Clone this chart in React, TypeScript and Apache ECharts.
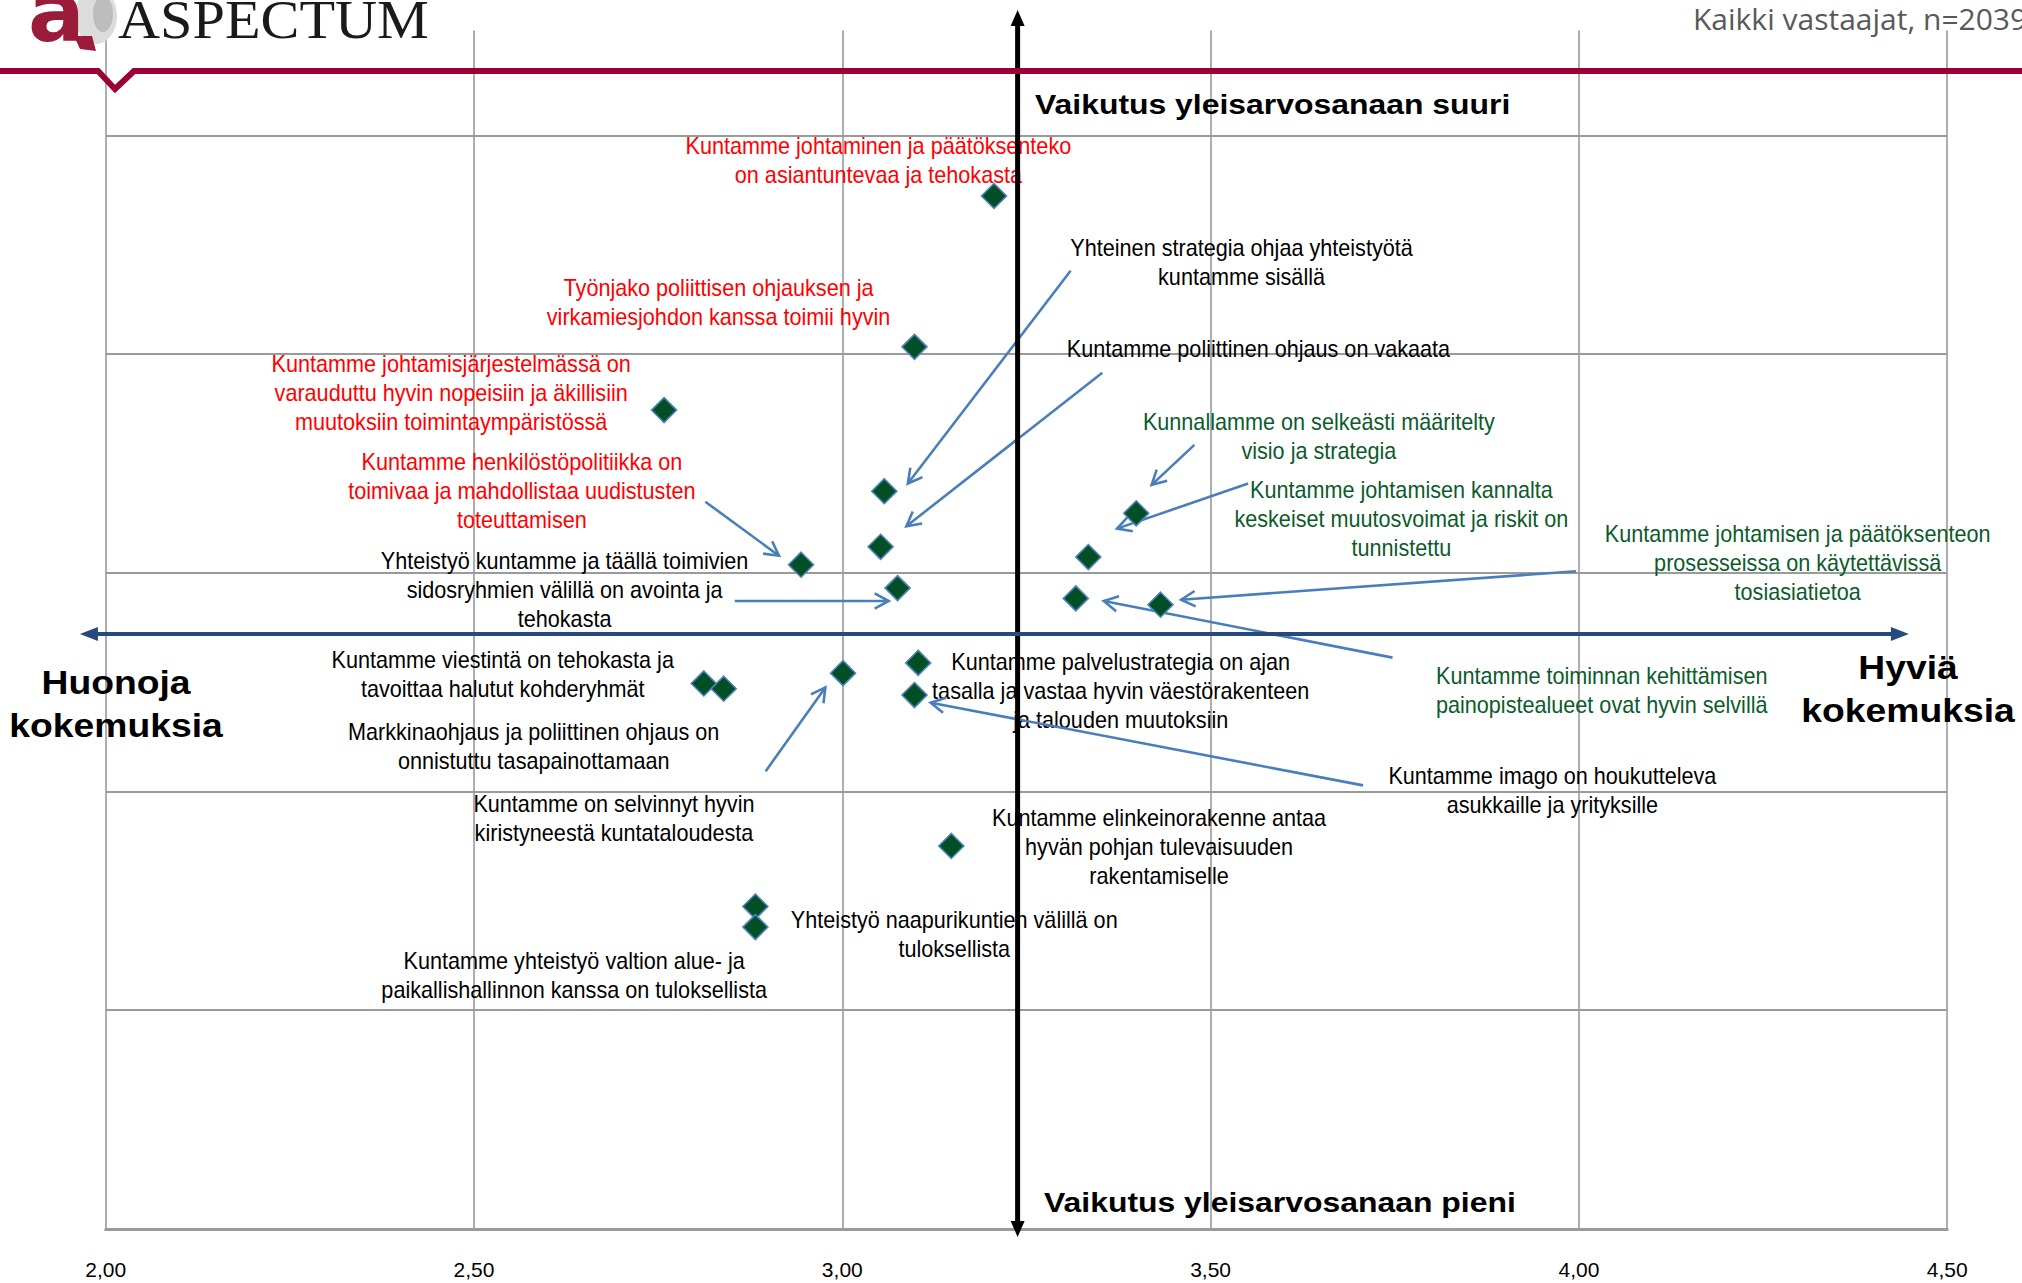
import { useEffect, useRef } from 'react';
import * as echarts from 'echarts';

// ---- Data -------------------------------------------------------------
const statements = [
  'Kuntamme johtaminen ja päätöksenteko on asiantuntevaa ja tehokasta',
  'Työnjako poliittisen ohjauksen ja virkamiesjohdon kanssa toimii hyvin',
  'Kuntamme johtamisjärjestelmässä on varauduttu hyvin nopeisiin ja äkillisiin muutoksiin toimintaympäristössä',
  'Yhteinen strategia ohjaa yhteistyötä kuntamme sisällä',
  'Kuntamme poliittinen ohjaus on vakaata',
  'Kuntamme henkilöstöpolitiikka on toimivaa ja mahdollistaa uudistusten toteuttamisen',
  'Yhteistyö kuntamme ja täällä toimivien sidosryhmien välillä on avointa ja tehokasta',
  'Kunnallamme on selkeästi määritelty visio ja strategia',
  'Kuntamme johtamisen kannalta keskeiset muutosvoimat ja riskit on tunnistettu',
  'Kuntamme toiminnan kehittämisen painopistealueet ovat hyvin selvillä',
  'Kuntamme johtamisen ja päätöksenteon prosesseissa on käytettävissä tosiasiatietoa',
  'Kuntamme palvelustrategia on ajan tasalla ja vastaa hyvin väestörakenteen ja talouden muutoksiin',
  'Kuntamme imago on houkutteleva asukkaille ja yrityksille',
  'Kuntamme on selvinnyt hyvin kiristyneestä kuntataloudesta',
  'Kuntamme viestintä on tehokasta ja tavoittaa halutut kohderyhmät',
  'Markkinaohjaus ja poliittinen ohjaus on onnistuttu tasapainottamaan',
  'Kuntamme elinkeinorakenne antaa hyvän pohjan tulevaisuuden rakentamiselle',
  'Yhteistyö naapurikuntien välillä on tuloksellista',
  'Kuntamme yhteistyö valtion alue- ja paikallishallinnon kanssa on tuloksellista',
];

// experience (x, 2..4.5) and impact on overall grade (y, relative scale)
const experience = [3.206, 3.098, 2.758, 3.057, 3.052, 2.944, 3.075, 3.399, 3.334, 3.317, 3.432, 3.103, 3.098, 3.001, 2.812, 2.839, 3.148, 2.882, 2.882];
const impact = [4.723, 4.033, 3.744, 3.373, 3.119, 3.037, 2.930, 3.272, 3.072, 2.883, 2.854, 2.588, 2.441, 2.541, 2.494, 2.470, 1.751, 1.474, 1.380];

// label texts as broken in the original
const labelLines = [
  'Kuntamme johtaminen ja päätöksenteko\non asiantuntevaa ja tehokasta',
  'Työnjako poliittisen ohjauksen ja\nvirkamiesjohdon kanssa toimii hyvin',
  'Kuntamme johtamisjärjestelmässä on\nvarauduttu hyvin nopeisiin ja äkillisiin\nmuutoksiin toimintaympäristössä',
  'Yhteinen strategia ohjaa yhteistyötä\nkuntamme sisällä',
  'Kuntamme poliittinen ohjaus on vakaata',
  'Kuntamme henkilöstöpolitiikka on\ntoimivaa ja mahdollistaa uudistusten\ntoteuttamisen',
  'Yhteistyö kuntamme ja täällä toimivien\nsidosryhmien välillä on avointa ja\ntehokasta',
  'Kunnallamme on selkeästi määritelty\nvisio ja strategia',
  'Kuntamme johtamisen kannalta\nkeskeiset muutosvoimat ja riskit on\ntunnistettu',
  'Kuntamme toiminnan kehittämisen\npainopistealueet ovat hyvin selvillä',
  'Kuntamme johtamisen ja päätöksenteon\nprosesseissa on käytettävissä\ntosiasiatietoa',
  'Kuntamme palvelustrategia on ajan\ntasalla ja vastaa hyvin väestörakenteen\nja talouden muutoksiin',
  'Kuntamme imago on houkutteleva\nasukkaille ja yrityksille',
  'Kuntamme on selvinnyt hyvin\nkiristyneestä kuntataloudesta',
  'Kuntamme viestintä on tehokasta ja\ntavoittaa halutut kohderyhmät',
  'Markkinaohjaus ja poliittinen ohjaus on\nonnistuttu tasapainottamaan',
  'Kuntamme elinkeinorakenne antaa\nhyvän pohjan tulevaisuuden\nrakentamiselle',
  'Yhteistyö naapurikuntien välillä on\ntuloksellista',
  'Kuntamme yhteistyö valtion alue- ja\npaikallishallinnon kanssa on tuloksellista',
];
// tone of the label: 0 = weakness (red), 1 = neutral (black), 2 = strength (green)
const labelTone = [0, 0, 0, 1, 1, 0, 1, 2, 2, 2, 2, 1, 1, 1, 1, 1, 1, 1, 1];
// label anchors (data units)
const labelX = [3.049, 2.832, 2.469, 3.542, 3.565, 2.565, 2.623, 3.647, 3.759, 4.031, 4.297, 3.378, 3.964, 2.690, 2.539, 2.581, 3.430, 3.152, 2.636];
const labelY = [4.882, 4.233, 3.821, 4.416, 4.021, 3.373, 2.919, 3.623, 3.243, 2.459, 3.042, 2.459, 2.005, 1.875, 2.532, 2.205, 1.745, 1.344, 1.156];

// leader arrows (data units): [fromX, fromY, toX, toY]
const leaderArrows = [
  [2.814, 3.325, 2.914, 3.078],
  [3.310, 4.381, 3.089, 3.408],
  [3.353, 3.915, 3.087, 3.213],
  [2.854, 2.871, 3.063, 2.871],
  [2.896, 2.093, 2.977, 2.476],
  [3.707, 2.028, 3.120, 2.406],
  [3.478, 3.585, 3.420, 3.402],
  [3.551, 3.408, 3.373, 3.202],
  [3.996, 3.007, 3.460, 2.877],
  [3.747, 2.612, 3.355, 2.871],
];

// quadrant axes (averages)
const meanExperience = 3.238;
const meanImpact = 2.72;
const quadrantAxes = [
  [meanExperience, -0.037, meanExperience, 5.573],
  [1.965, meanImpact, 4.448, meanImpact],
];

const xTicks = { min: 2, max: 4.5, interval: 0.5 };
const yRange = { min: 0, max: 5.48, interval: 1 };

const toneColors = ['#FF0000', '#000000', '#0B5B2A'];
const LABEL_FONT = '"Liberation Sans", Arial, sans-serif';

export default function App() {
  const ref = useRef<HTMLDivElement>(null);

  useEffect(() => {
    if (!ref.current) return;
    const chart = echarts.init(ref.current, null, { renderer: 'svg' });

    const labelSeries = {
      type: 'custom',
      coordinateSystem: 'cartesian2d',
      clip: false,
      z: 2,
      silent: true,
      data: labelX.map((x, i) => [x, labelY[i], i]),
      renderItem: (params: any, api: any) => {
        const i = params.dataIndex;
        const p = api.coord([api.value(0), api.value(1)]);
        return {
          type: 'text',
          x: p[0],
          y: p[1],
          scaleX: 0.94,
          style: {
            text: labelLines[i],
            fill: toneColors[labelTone[i]],
            fontSize: 23,
            fontFamily: LABEL_FONT,
            align: 'center',
            verticalAlign: 'middle',
            lineHeight: 29,
          },
        };
      },
    };

    const arrowSeries = {
      type: 'custom',
      coordinateSystem: 'cartesian2d',
      clip: false,
      z: 3,
      silent: true,
      data: leaderArrows,
      renderItem: (_params: any, api: any) => {
        const a = api.coord([api.value(0), api.value(1)]);
        const b = api.coord([api.value(2), api.value(3)]);
        const ang = Math.atan2(b[1] - a[1], b[0] - a[0]);
        const L = 16;
        const w = 0.5;
        const h1 = [b[0] - L * Math.cos(ang - w), b[1] - L * Math.sin(ang - w)];
        const h2 = [b[0] - L * Math.cos(ang + w), b[1] - L * Math.sin(ang + w)];
        const stroke = '#4A7EBB';
        return {
          type: 'group',
          children: [
            { type: 'line', shape: { x1: a[0], y1: a[1], x2: b[0], y2: b[1] }, style: { stroke, lineWidth: 2.6 } },
            { type: 'polyline', shape: { points: [h1, b, h2] }, style: { stroke, lineWidth: 2.6, fill: null } },
          ],
        };
      },
    };

    const axesSeries = {
      type: 'custom',
      coordinateSystem: 'cartesian2d',
      clip: false,
      z: 4,
      silent: true,
      data: quadrantAxes,
      renderItem: (params: any, api: any) => {
        const a = api.coord([api.value(0), api.value(1)]);
        const b = api.coord([api.value(2), api.value(3)]);
        const vertical = params.dataIndex === 0;
        const color = vertical ? '#000000' : '#26497E';
        const lw = vertical ? 5 : 4;
        const L = vertical ? 16 : 18;
        const hw = 7;
        const ang = Math.atan2(b[1] - a[1], b[0] - a[0]);
        const cx = Math.cos(ang), sy = Math.sin(ang);
        const head = (tip: number[], dir: number) => {
          const bx = tip[0] - dir * L * cx;
          const by = tip[1] - dir * L * sy;
          return [tip, [bx - hw * sy, by + hw * cx], [bx + hw * sy, by - hw * cx]];
        };
        return {
          type: 'group',
          children: [
            {
              type: 'line',
              shape: { x1: a[0] + L * 0.8 * cx, y1: a[1] + L * 0.8 * sy, x2: b[0] - L * 0.8 * cx, y2: b[1] - L * 0.8 * sy },
              style: { stroke: color, lineWidth: lw },
            },
            { type: 'polygon', shape: { points: head(b, 1) }, style: { fill: color } },
            { type: 'polygon', shape: { points: head(a, -1) }, style: { fill: color } },
          ],
        };
      },
    };

    const option: any = {
      animation: false,
      backgroundColor: '#ffffff',
      grid: { left: 105.7, right: 74.8, top: 30.4, bottom: 54.1, containLabel: false, outerBoundsMode: 'none' },
      xAxis: {
        type: 'value',
        min: xTicks.min,
        max: xTicks.max,
        interval: xTicks.interval,
        axisLine: { show: true, onZero: false, lineStyle: { color: '#9a9a9a', width: 3 } },
        axisTick: { show: false },
        axisLabel: {
          margin: 30,
          color: '#000',
          fontSize: 21,
          fontFamily: LABEL_FONT,
          formatter: (v: number) => v.toFixed(2).replace('.', ','),
        },
        splitLine: { show: true, lineStyle: { color: '#9a9a9a', width: 1.6 } },
      },
      yAxis: {
        type: 'value',
        min: yRange.min,
        max: yRange.max,
        interval: yRange.interval,
        axisLine: { show: false },
        axisTick: { show: false },
        axisLabel: { show: false },
        splitLine: { show: true, showMaxLine: false, lineStyle: { color: '#9a9a9a', width: 2 } },
      },
      series: [
        labelSeries,
        arrowSeries,
        axesSeries,
        {
          type: 'scatter',
          z: 5,
          symbol: 'diamond',
          symbolSize: [25, 25],
          itemStyle: { color: '#024F25', borderColor: '#4F81BD', borderWidth: 1.6, opacity: 1 },
          data: experience.map((x, i) => ({ name: statements[i], value: [x, impact[i]] })),
        },
      ],
      graphic: {
        elements: [
          // header
          { type: 'rect', shape: { x: 60, y: 0, width: 58, height: 40 }, style: { fill: '#ffffff' }, z: 10 },
          { type: 'ellipse', shape: { cx: 96, cy: 16, rx: 21, ry: 28 }, style: { fill: '#dcdcdc' }, z: 11 },
          { type: 'ellipse', shape: { cx: 103, cy: 14, rx: 10, ry: 18 }, style: { fill: '#bdbdbd' }, z: 11 },
          {
            type: 'text', x: 28, y: 12, z: 12,
            style: { text: 'a', fontSize: 84, fontWeight: 'bold', fontFamily: '"DejaVu Sans", sans-serif', fill: '#9B1B3A', align: 'left', verticalAlign: 'middle' },
          },
          { type: 'polygon', shape: { points: [[74, 36], [92, 36], [96, 51], [80, 49]] }, style: { fill: '#9B1B3A' }, z: 12 },
          {
            type: 'text', x: 118, y: 20, scaleX: 1.06, z: 12,
            style: { text: 'ASPECTUM', fontSize: 55, fontFamily: '"Liberation Serif", "DejaVu Serif", serif', fill: '#1a1a1a', align: 'left', verticalAlign: 'middle' },
          },
          {
            type: 'polyline', z: 12,
            shape: { points: [[0, 71], [98, 71], [115, 89], [134, 71], [2030, 71]] },
            style: { stroke: '#9B0036', lineWidth: 6, fill: null },
          },
          {
            type: 'text', x: 1693, y: 18, z: 12,
            style: { text: 'Kaikki vastaajat, n=2039', fontSize: 30, fontFamily: '"Open Sans", sans-serif', fill: '#595959', align: 'left', verticalAlign: 'middle' },
          },
          // axis captions
          {
            type: 'text', x: 1035, y: 104, scaleX: 1.14, z: 12,
            style: { text: 'Vaikutus yleisarvosanaan suuri', fontSize: 28, fontWeight: 'bold', fontFamily: LABEL_FONT, fill: '#000', align: 'left', verticalAlign: 'middle' },
          },
          {
            type: 'text', x: 1044, y: 1202, scaleX: 1.14, z: 12,
            style: { text: 'Vaikutus yleisarvosanaan pieni', fontSize: 28, fontWeight: 'bold', fontFamily: LABEL_FONT, fill: '#000', align: 'left', verticalAlign: 'middle' },
          },
          {
            type: 'text', x: 116, y: 704, scaleX: 1.13, z: 12,
            style: { text: 'Huonoja\nkokemuksia', fontSize: 33, fontWeight: 'bold', fontFamily: LABEL_FONT, fill: '#000', align: 'center', verticalAlign: 'middle', lineHeight: 43 },
          },
          {
            type: 'text', x: 1908, y: 689, scaleX: 1.13, z: 12,
            style: { text: 'Hyviä\nkokemuksia', fontSize: 33, fontWeight: 'bold', fontFamily: LABEL_FONT, fill: '#000', align: 'center', verticalAlign: 'middle', lineHeight: 43 },
          },
        ],
      },
    };

    chart.setOption(option);
    return () => chart.dispose();
  }, []);

  return (
    <div
      ref={ref}
      style={{ position: 'fixed', left: 0, top: 0, width: 2022, height: 1283, background: '#fff' }}
    />
  );
}
